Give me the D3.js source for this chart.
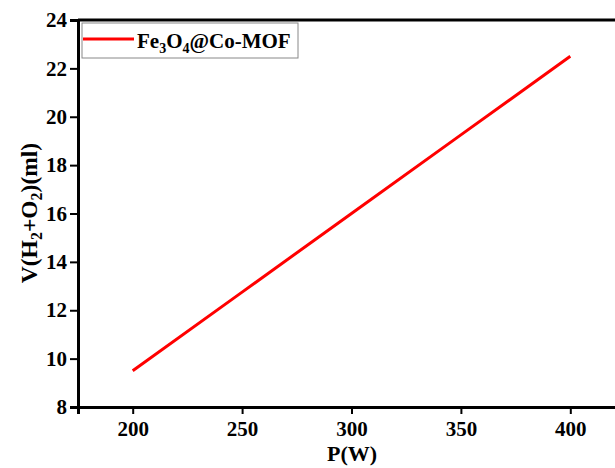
<!DOCTYPE html>
<html>
<head>
<meta charset="utf-8">
<script src="https://cdn.jsdelivr.net/npm/d3@7"></script>
<style>
  body { margin: 0; background: #fff; }
  svg text { font-family: "Liberation Serif", "Times New Roman", serif; font-weight: bold; }
</style>
</head>
<body>
<div id="chart"></div>
<script>
// values
var power = [200, 250, 300, 350, 400]
var volume = [9.5, 12.75, 16, 19.25, 22.5]
var xTicks = [200, 250, 300, 350, 400]
var yTicks = [8, 10, 12, 14, 16, 18, 20, 22, 24]

var margin = { top: 20, left: 78, right: 0, bottom: 61 }
var totalWidth = 615
var totalHeight = 468
var height = totalHeight - margin.top - margin.bottom
// plot runs past the right edge of the picture
var width = 547

var svg = d3.select('#chart')
  .append('svg')
  .attr('width', totalWidth)
  .attr('height', totalHeight)

var g = svg.append('g')
  .attr('transform', 'translate(' + margin.left + ',' + margin.top + ')')

var xPositionScale = d3.scaleLinear().domain([175, 425]).range([0, width])
var yPositionScale = d3.scaleLinear().domain([8, 24]).range([height, 0])

var points = power.map(function(p, i) { return { p: p, v: volume[i] } })

var line = d3.line()
  .x(function(d) { return xPositionScale(d.p) })
  .y(function(d) { return yPositionScale(d.v) })

g.append('path')
  .datum(points)
  .attr('d', line)
  .attr('fill', 'none')
  .attr('stroke', '#ff0000')
  .attr('stroke-width', 3)

// axes
var xAxis = d3.axisBottom(xPositionScale).tickValues(xTicks).tickSize(7).tickPadding(7)
var yAxis = d3.axisLeft(yPositionScale).tickValues(yTicks).tickSize(8).tickPadding(3)

var xg = g.append('g')
  .attr('class', 'axis x-axis')
  .attr('transform', 'translate(0,' + height + ')')
  .call(xAxis)

var yg = g.append('g')
  .attr('class', 'axis y-axis')
  .call(yAxis)

// top frame line
g.append('line')
  .attr('x1', 0)
  .attr('x2', width)
  .attr('y1', 0)
  .attr('y2', 0)
  .attr('stroke', '#000')
  .attr('stroke-width', 3)

;[xg, yg].forEach(function(a) {
  a.select('.domain').attr('stroke-width', 3).attr('stroke', '#000')
  a.selectAll('.tick line').attr('stroke-width', 2).attr('stroke', '#000')
  a.selectAll('.tick text').attr('font-size', 21).attr('fill', '#000')
})

// axis labels
svg.append('text')
  .attr('x', 352)
  .attr('y', 461)
  .attr('text-anchor', 'middle')
  .attr('font-size', 22)
  .text('P(W)')

var yLabel = svg.append('text')
  .attr('font-size', 23.5)
yLabel.append('tspan').text('V(H')
yLabel.append('tspan').attr('font-size', 16).attr('dy', 5).text('2')
yLabel.append('tspan').attr('dy', -5).text('+O')
yLabel.append('tspan').attr('font-size', 16).attr('dy', 5).text('2')
yLabel.append('tspan').attr('dy', -5).text(')(ml)')
// center the rotated label on the plot
var yLen = yLabel.node().getComputedTextLength()
yLabel.attr('transform', 'translate(37,' + (213 + yLen / 2) + ') rotate(-90)')

// legend
var legend = svg.append('g').attr('transform', 'translate(82,23)')
legend.append('rect')
  .attr('width', 216)
  .attr('height', 35)
  .attr('fill', '#fff')
  .attr('stroke', '#888')
  .attr('stroke-width', 1)
legend.append('line')
  .attr('x1', 1)
  .attr('x2', 52)
  .attr('y1', 16)
  .attr('y2', 16)
  .attr('stroke', '#ff0000')
  .attr('stroke-width', 3)
var lt = legend.append('text')
  .attr('x', 55)
  .attr('y', 25)
  .attr('font-size', 21)
lt.append('tspan').text('Fe')
lt.append('tspan').attr('font-size', 14).attr('dy', 5).text('3')
lt.append('tspan').attr('dy', -5).text('O')
lt.append('tspan').attr('font-size', 14).attr('dy', 5).text('4')
lt.append('tspan').attr('dy', -5).text('@Co-MOF')
</script>
</body>
</html>
